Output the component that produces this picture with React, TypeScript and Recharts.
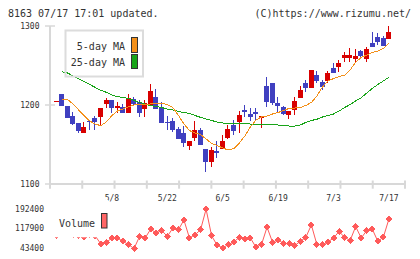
import React from 'react';
import { ComposedChart, Bar, Line, XAxis, YAxis } from 'recharts';

// ---- data ----
const OPEN = [
  1205, 1214, 1199, 1186, 1177, 1164, 1180, 1183, 1185, 1201.6,
  1206, 1196, 1198, 1190, 1207.6, 1204, 1194.5, 1199, 1210, 1197.5,
  1178.5, 1180, 1170, 1165, 1148, 1158, 1168.4, 1144, 1128, 1141.8,
  1144, 1158, 1175, 1178.5, 1193.7, 1188.6, 1191, 1183.5, 1224, 1227.5,
  1203, 1197, 1187, 1193.7, 1209, 1227.5, 1222, 1238, 1229, 1230,
  1246.5, 1248.5, 1259, 1260, 1258.6, 1268.4, 1258, 1278.5, 1286.5, 1284.4,
  1284,
];
const HIGH = [
  1205, 1214, 1199, 1191.5, 1177, 1179, 1180, 1186, 1196, 1209,
  1206, 1204, 1201, 1214, 1210, 1206, 1206, 1226.6, 1220, 1203.4,
  1186, 1183, 1172.5, 1173.4, 1155, 1180, 1171, 1144, 1146.5, 1154.4,
  1162, 1175, 1181, 1192.4, 1200, 1196, 1196, 1186, 1235, 1227.5,
  1210.5, 1198.6, 1192.4, 1210.5, 1224, 1231.6, 1244, 1243, 1231.6, 1243,
  1253, 1257, 1267.5, 1272, 1271, 1269, 1274, 1292, 1291, 1287,
  1301,
];
const LOW = [
  1205, 1199, 1184, 1175, 1165, 1164, 1168, 1168, 1175, 1196,
  1190, 1190, 1190.5, 1190, 1200, 1185, 1185, 1199, 1195, 1176.6,
  1168.4, 1166, 1157.5, 1147, 1143, 1154.4, 1149.4, 1115.6, 1121, 1132.5,
  1144, 1157, 1162, 1164, 1185, 1180, 1181, 1171, 1198, 1200,
  1191.5, 1187, 1182, 1187, 1209, 1217, 1222, 1227.5, 1219, 1227.5,
  1240, 1242, 1255, 1255, 1253.5, 1261, 1255, 1274, 1276, 1274.7,
  1284,
];
const CLOSE = [
  1205, 1199, 1184, 1176, 1167, 1172.5, 1178, 1179, 1196, 1206,
  1196, 1198.5, 1190.5, 1209, 1201, 1189.5, 1203, 1217.7, 1195.4, 1177.6,
  1177, 1168, 1157.5, 1152, 1155, 1168.4, 1149.4, 1128, 1143, 1139,
  1155, 1170, 1167, 1187, 1191, 1185, 1188, 1186, 1204, 1202,
  1199, 1188.6, 1192.4, 1205, 1219, 1221, 1244, 1230, 1223, 1240.5,
  1241, 1253, 1263, 1263, 1262, 1262.4, 1271, 1274, 1280, 1274.7,
  1292.4,
];
const MA5 = [
  null, 1207.2, 1207.0, 1201.3, 1193.7, 1186.7, 1179.7, 1175.9, 1173.8, 1178.5,
  1186.7, 1192.4, 1194.9, 1197.9, 1200, 1200.6, 1200.9, 1201.3, 1202.5, 1202.2,
  1200.6, 1196.8, 1187, 1175.9, 1167.7, 1164.6, 1162.7, 1157, 1151.3, 1148.7,
  1145.6, 1143, 1144.9, 1151.9, 1160.8, 1172.2, 1181, 1184.8, 1186.1, 1188.6,
  1190.5, 1193, 1195.8, 1196.2, 1196.8, 1199.4, 1203.2, 1211.4, 1222.8, 1230.4,
  1233.5, 1236.1, 1237.6, 1244.3, 1254.4, 1260.1, 1263.3, 1266.5, 1268.4, 1271.5,
  1278.1,
];
const MA25 = [
  null, 1242.2, 1240.5, 1236.7, 1233.3, 1229.5, 1226, 1222.2, 1218.6, 1216.1,
  1212.7, 1210.4, 1209.7, 1208.2, 1205.7, 1203.2, 1201.3, 1199.1, 1198.1, 1196.8,
  1194.9, 1193.7, 1191.8, 1190.5, 1189.2, 1186.7, 1184.4, 1182.3, 1180.4, 1178.5,
  1177.2, 1176.8, 1176.8, 1176.6, 1176.3, 1175.9, 1175.9, 1175.9, 1175.6, 1175.1,
  1174.7, 1174.1, 1173.4, 1173.4, 1174.7, 1177.9, 1180.4, 1182, 1184.8, 1186.7,
  1188.6, 1192.4, 1196.8, 1200.6, 1205.1, 1209.2, 1215.2, 1220.9, 1226, 1230.4,
  1235.1,
];
const VOLUME = [
  90000, 97000, 100000, 95000, 92000, 84400, 95000, 89000, 58600, 64700,
  81300, 81300, 68400, 55900, 40800, 87400, 81300, 115400, 100300, 110100,
  87400, 119200, 112800, 150700, 81300, 93800, 112800, 192400, 89600, 53300,
  43400, 55900, 66200, 83600, 77400, 81300, 45700, 55900, 123000, 64700,
  74900, 59700, 59700, 52100, 68400, 83600, 131700, 55900, 55900, 66200,
  81300, 106400, 83600, 72200, 125300, 81300, 110100, 115400, 68400, 85100,
  154500,
];
const LABEL_IDX = [10, 20, 30, 40, 50, 60];
const LABELS = ['5/8', '5/22', '6/5', '6/19', '7/3', '7/17'];
const PRICE_TICKS = [1100, 1200, 1300];
const VOL_TICKS = [43400, 117900, 192400];

// ---- style ----
const MONO = "'DejaVu Sans Mono', monospace";
const BLUE = '#4040c0';
const RED = '#d80000';
const ORANGE = '#f3901a';
const GREEN = '#18a418';
const VOLC = '#ff5a5a';
const AXIS = '#d8d8d8';
const TEXT = '#333333';

const X_MIN = -1.17;
const X_MAX = 62.9;
const MARKS = Array.from({ length: 12 }, (_, k) => X_MIN + (k * (X_MAX - X_MIN)) / 11);

const data = OPEN.map((o, i) => ({
  i,
  open: o,
  high: HIGH[i],
  low: LOW[i],
  close: CLOSE[i],
  ma5: MA5[i],
  ma25: MA25[i],
  volume: VOLUME[i],
}));

const Candle = (props: any) => {
  const { x, y, width, height, payload } = props;
  const { open, close, high, low } = payload;
  const cx = x + width / 2;
  const color = close >= open ? RED : BLUE;
  const top0 = Math.min(y, y + height);
  const h = Math.abs(height);
  if (high === low || h === 0) {
    return <rect x={cx - 2.5} y={top0 - 0.5} width={5} height={1.2} fill={color} shapeRendering="crispEdges" />;
  }
  const ppu = h / (high - low);
  const yOf = (v: number) => top0 + (high - v) * ppu;
  const bt = yOf(Math.max(open, close));
  const bb = yOf(Math.min(open, close));
  return (
    <g shapeRendering="crispEdges">
      <rect x={cx - 0.5} y={top0} width={1} height={h} fill={color} />
      <rect x={cx - 2.5} y={bt} width={5} height={Math.max(1.2, bb - bt)} fill={color} />
    </g>
  );
};

const XTick = (props: any) => {
  const { x, y, payload } = props;
  const li = LABEL_IDX.indexOf(payload.value);
  if (li >= 0) {
    return (
      <text x={x} y={y + 17} textAnchor="middle" fontSize={8} fontFamily={MONO} fill={TEXT}>
        {LABELS[li]}
      </text>
    );
  }
  return <line x1={x} x2={x} y1={y - 3.5} y2={y + 4.7} stroke={AXIS} strokeWidth={2} />;
};

const YTick = (props: any) => {
  const { x, y, payload } = props;
  return (
    <g>
      <line x1={x - 5} x2={x + 5} y1={y} y2={y} stroke={AXIS} strokeWidth={1.5} />
      <text x={x - 10.5} y={y + 2.7} textAnchor="end" fontSize={8} fontFamily={MONO} fill={TEXT}>
        {payload.value}
      </text>
    </g>
  );
};

const VTick = (props: any) => {
  const { x, y, payload } = props;
  return (
    <text x={x - 6} y={y + 2.7} textAnchor="end" fontSize={8} fontFamily={MONO} fill={TEXT}>
      {payload.value}
    </text>
  );
};

const Diamond = (props: any) => {
  const { cx, cy } = props;
  if (cx == null || cy == null) return null;
  const r = 3.5;
  return (
    <polygon
      points={`${cx},${cy - r} ${cx + r},${cy} ${cx},${cy + r} ${cx - r},${cy}`}
      fill={VOLC}
      shapeRendering="crispEdges"
    />
  );
};

export default function App() {
  return (
    <div style={{ position: 'absolute', left: 0, top: 0, width: 420, height: 259, background: '#fff', overflow: 'hidden' }}>
      <div style={{ position: 'absolute', left: 0, top: 0 }}>
        <ComposedChart width={420} height={204} data={data} margin={{ top: 26, right: 15, bottom: 0, left: 0 }}>
          <XAxis
            dataKey="i"
            type="number"
            domain={[X_MIN, X_MAX]}
            allowDataOverflow
            ticks={[...MARKS, ...LABEL_IDX]}
            interval={0}
            tick={<XTick />}
            tickLine={false}
            tickSize={0}
            tickMargin={0}
            height={20}
            axisLine={{ stroke: AXIS, strokeWidth: 2 }}
          />
          <YAxis
            type="number"
            domain={[1100, 1300]}
            allowDataOverflow
            ticks={PRICE_TICKS}
            interval={0}
            width={50}
            tick={<YTick />}
            tickLine={false}
            tickSize={0}
            tickMargin={0}
            axisLine={{ stroke: AXIS, strokeWidth: 2 }}
          />
          <Line
            dataKey="ma25"
            stroke={GREEN}
            strokeWidth={1}
            dot={false}
            activeDot={false}
            isAnimationActive={false}
            shapeRendering="crispEdges"
          />
          <Line
            dataKey="ma5"
            stroke={ORANGE}
            strokeWidth={1}
            dot={false}
            activeDot={false}
            isAnimationActive={false}
            shapeRendering="crispEdges"
          />
          <Bar
            dataKey={(d: any) => [d.low, d.high]}
            barSize={5}
            shape={<Candle />}
            isAnimationActive={false}
          />
        </ComposedChart>
      </div>
      <div style={{ position: 'absolute', left: 0, top: 0 }}>
        <ComposedChart width={420} height={259} data={data} margin={{ top: 209.2, right: 15, bottom: 10.5, left: 0 }}>
          <XAxis dataKey="i" type="number" domain={[X_MIN, X_MAX]} allowDataOverflow hide />
          <YAxis
            type="number"
            domain={[43400, 192400]}
            ticks={VOL_TICKS}
            interval={0}
            width={50}
            tick={<VTick />}
            tickLine={false}
            tickSize={0}
            tickMargin={0}
            axisLine={false}
          />
          <Line
            dataKey="volume"
            stroke={VOLC}
            strokeWidth={1}
            dot={<Diamond />}
            activeDot={false}
            isAnimationActive={false}
          />
        </ComposedChart>
      </div>
      <svg width={420} height={259} style={{ position: 'absolute', left: 0, top: 0, pointerEvents: 'none' }}>
        <text x={8} y={17} fontSize={10} fontFamily={MONO} fill={TEXT}>8163 07/17 17:01 updated.</text>
        <text x={411} y={17} textAnchor="end" fontSize={10} fontFamily={MONO} fill={TEXT}>(C)https://www.rizumu.net/</text>
        <rect x={65.5} y={30.5} width={77.5} height={46} fill="none" stroke="#dcdcdc" strokeWidth={2} />
        <text x={125} y={49.5} textAnchor="end" fontSize={10} fontFamily={MONO} fill={TEXT}>5-day MA</text>
        <text x={125} y={66} textAnchor="end" fontSize={10} fontFamily={MONO} fill={TEXT}>25-day MA</text>
        <rect x={131.5} y={37.5} width={6} height={15} fill={ORANGE} stroke="#333" strokeWidth={1} />
        <rect x={131.5} y={54.5} width={6} height={14} fill={GREEN} stroke="#333" strokeWidth={1} />
        <rect x={50} y={200} width={58} height={37.3} fill="#fff" />
        <text x={59} y={226.5} fontSize={10} fontFamily={MONO} fill={TEXT}>Volume</text>
        <rect x={101.5} y={213.5} width={5.5} height={14.5} fill="#ff6666" stroke="#333" strokeWidth={1} />
      </svg>
    </div>
  );
}
